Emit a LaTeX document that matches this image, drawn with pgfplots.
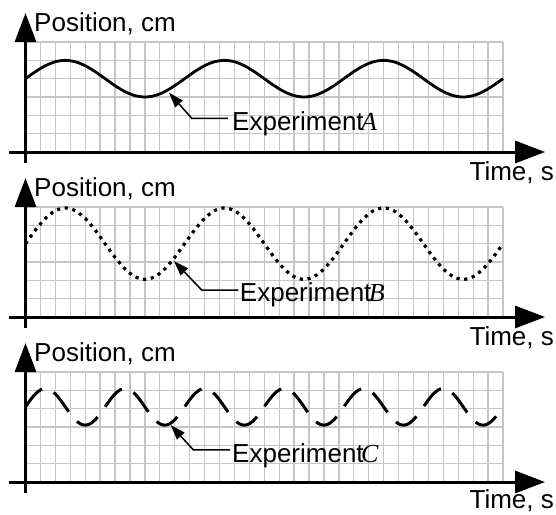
\documentclass[border=0pt]{standalone}
\usepackage{pgfplots}
\pgfplotsset{compat=1.18}
\usepackage{pgfplotstable}
\usepackage{fontspec}
\setmainfont{Liberation Sans}
\newfontfamily\seriffont{Liberation Serif}
\usetikzlibrary{arrows.meta}
\definecolor{gridgray}{RGB}{198,198,198}

\pgfplotstableread{
x y
0 4
0.667 4.383
1.333 4.707
2 4.924
2.667 5
3.333 4.924
4 4.707
4.667 4.383
5.333 4
6 3.617
6.667 3.293
7.333 3.076
8 3
8.667 3.076
9.333 3.293
10 3.617
10.667 4
11.333 4.383
12 4.707
12.667 4.924
13.333 5
14 4.924
14.667 4.707
15.333 4.383
16 4
16.667 3.617
17.333 3.293
18 3.076
18.667 3
19.333 3.076
20 3.293
20.667 3.617
21.333 4
22 4.383
22.667 4.707
23.333 4.924
24 5
24.667 4.924
25.333 4.707
26 4.383
26.667 4
27.333 3.617
28 3.293
28.667 3.076
29.333 3
30 3.076
30.667 3.293
31.333 3.617
32 4
}\dataA

\pgfplotstableread{
x y
0 4
0.667 4.746
1.333 5.379
2 5.801
2.667 5.95
3.333 5.801
4 5.379
4.667 4.746
5.333 4
6 3.254
6.667 2.621
7.333 2.199
8 2.05
8.667 2.199
9.333 2.621
10 3.254
10.667 4
11.333 4.746
12 5.379
12.667 5.801
13.333 5.95
14 5.801
14.667 5.379
15.333 4.746
16 4
16.667 3.254
17.333 2.621
18 2.199
18.667 2.05
19.333 2.199
20 2.621
20.667 3.254
21.333 4
22 4.746
22.667 5.379
23.333 5.801
24 5.95
24.667 5.801
25.333 5.379
26 4.746
26.667 4
27.333 3.254
28 2.621
28.667 2.199
29.333 2.05
30 2.199
30.667 2.621
31.333 3.254
32 4
}\dataB

\pgfplotstableread{
x y
0 4.1
0.333 4.483
0.667 4.807
1 5.024
1.333 5.1
1.667 5.024
2 4.807
2.333 4.483
2.667 4.1
3 3.717
3.333 3.393
3.667 3.176
4 3.1
4.333 3.176
4.667 3.393
5 3.717
5.333 4.1
5.667 4.483
6 4.807
6.333 5.024
6.667 5.1
7 5.024
7.333 4.807
7.667 4.483
8 4.1
8.333 3.717
8.667 3.393
9 3.176
9.333 3.1
9.667 3.176
10 3.393
10.333 3.717
10.667 4.1
11 4.483
11.333 4.807
11.667 5.024
12 5.1
12.333 5.024
12.667 4.807
13 4.483
13.333 4.1
13.667 3.717
14 3.393
14.333 3.176
14.667 3.1
15 3.176
15.333 3.393
15.667 3.717
16 4.1
16.333 4.483
16.667 4.807
17 5.024
17.333 5.1
17.667 5.024
18 4.807
18.333 4.483
18.667 4.1
19 3.717
19.333 3.393
19.667 3.176
20 3.1
20.333 3.176
20.667 3.393
21 3.717
21.333 4.1
21.667 4.483
22 4.807
22.333 5.024
22.667 5.1
23 5.024
23.333 4.807
23.667 4.483
24 4.1
24.333 3.717
24.667 3.393
25 3.176
25.333 3.1
25.667 3.176
26 3.393
26.333 3.717
26.667 4.1
27 4.483
27.333 4.807
27.667 5.024
28 5.1
28.333 5.024
28.667 4.807
29 4.483
29.333 4.1
29.667 3.717
30 3.393
30.333 3.176
30.667 3.1
31 3.176
31.333 3.393
31.667 3.717
32 4.1
}\dataC

\pgfplotsset{
  panel/.style={
    scale only axis, width=477.5pt, height=110pt,
    xmin=0, xmax=32, ymin=0, ymax=6,
    axis line style={draw=none},
    xtick={0,...,32}, ytick={0,...,6},
    xticklabels={}, yticklabels={},
    major tick length=0pt,
    grid=major,
    grid style={line width=1.3pt, color=gridgray},
    clip=false,
  }
}
\newcommand\bigfont{\fontsize{26}{31}\selectfont}
\newcommand\axesdeco[1]{%
  \draw[line width=3pt,-{Triangle[length=30pt,width=22pt]}] (axis cs:-1.1,0) -- (axis cs:34.82,0);
  \draw[line width=3pt,-{Triangle[length=29pt,width=21pt]}] (axis cs:0,-0.6) -- (axis cs:0,7.58);
  \node[anchor=base west, inner sep=0pt, font=\bigfont] at (axis cs:0.57,6.55) {Position, cm};
  \node[anchor=base east, inner sep=0pt, font=\bigfont] at (axis cs:35.42,#1) {Time, s};
}

\begin{document}
\begin{tikzpicture}
\useasboundingbox (-25.5pt,-362pt) rectangle (530.5pt,152pt);

\begin{axis}[panel, at={(0pt,0pt)}, anchor=south west]
\addplot[line width=2.8pt, smooth, black] table {\dataA};
\axesdeco{-1.55}
\draw[line width=1.5pt,-{Triangle[length=15pt,width=10pt]}] (axis cs:13.57,1.84) -- (axis cs:11.14,1.84) -- (axis cs:9.62,3.23);
\node[anchor=base west, inner sep=0pt, font=\bigfont] at (axis cs:13.84,1.146) {Experiment\kern-2.5pt{\seriffont\itshape A}};
\end{axis}

\begin{axis}[panel, at={(0pt,-165pt)}, anchor=south west]
\addplot[line width=3.2pt, smooth, black, dash pattern=on 3.2pt off 4.6pt] table {\dataB};
\axesdeco{-1.55}
\draw[line width=1.5pt,-{Triangle[length=15pt,width=10pt]}] (axis cs:14.26,1.47) -- (axis cs:11.81,1.47) -- (axis cs:9.95,3.05);
\node[anchor=base west, inner sep=0pt, font=\bigfont] at (axis cs:14.36,0.82) {Experiment\kern-2.5pt{\seriffont\itshape B}};
\end{axis}

\begin{axis}[panel, at={(0pt,-330pt)}, anchor=south west]
\addplot[line width=3pt, smooth, black, dash pattern=on 24.5pt off 12.8pt] table {\dataC};
\axesdeco{-1.47}
\draw[line width=1.5pt,-{Triangle[length=15pt,width=10pt]}] (axis cs:13.71,1.75) -- (axis cs:11.25,1.75) -- (axis cs:9.73,3.11);
\node[anchor=base west, inner sep=0pt, font=\bigfont] at (axis cs:13.84,1.04) {Experiment\kern-2.5pt{\seriffont\itshape C}};
\end{axis}
\end{tikzpicture}
\end{document}
